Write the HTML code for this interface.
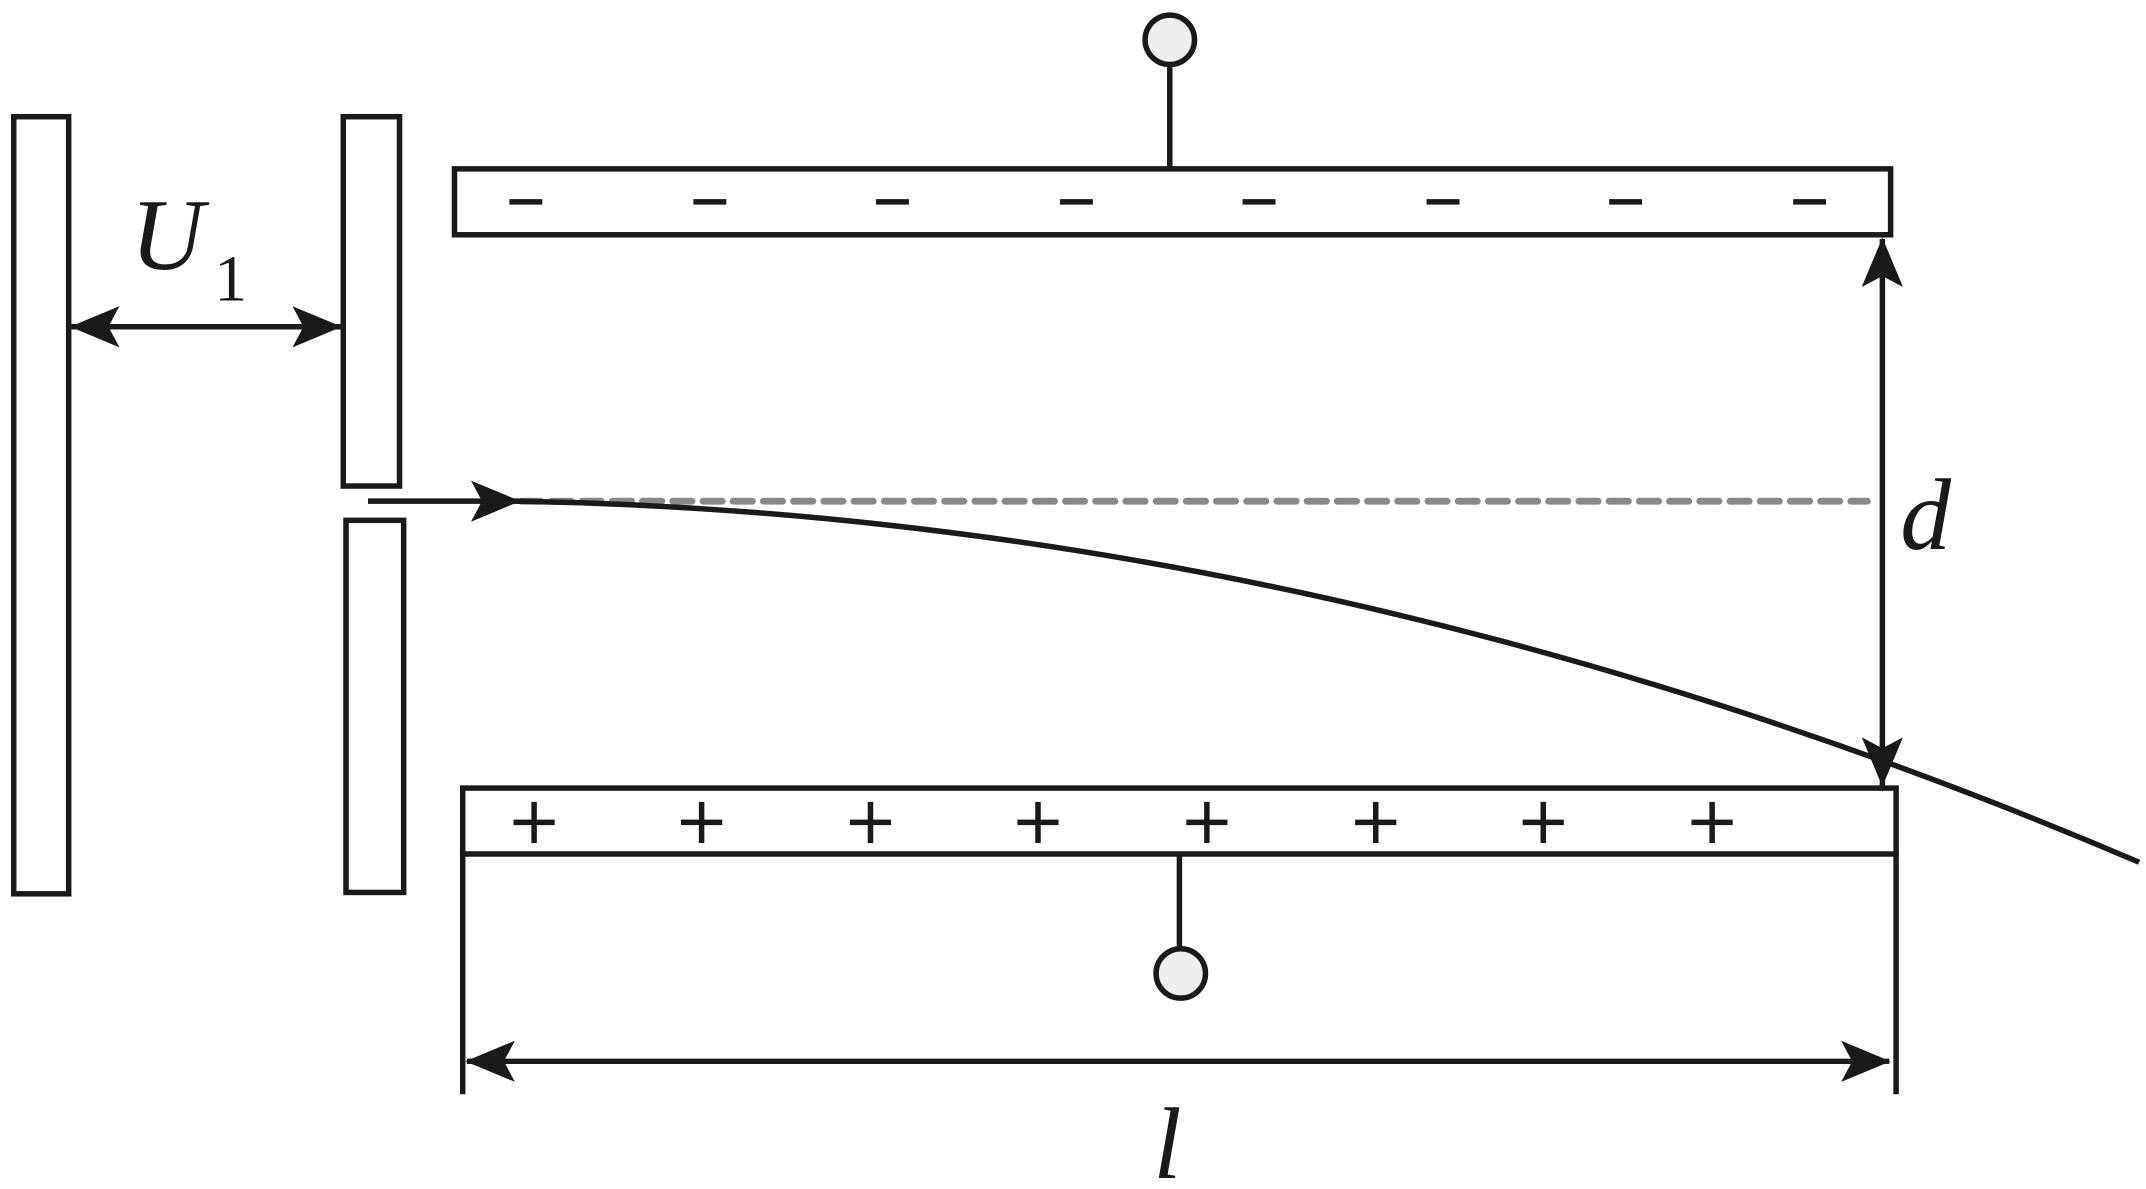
<!DOCTYPE html>
<html><head><meta charset="utf-8"><style>html,body{margin:0;padding:0;background:#fff;}svg{display:block}</style></head>
<body>
<svg width="2146" height="1189" viewBox="0 0 1563 866" xmlns="http://www.w3.org/2000/svg">
<defs>
<marker id="ah" viewBox="0 0 36 30" refX="35" refY="15" markerWidth="36" markerHeight="30" markerUnits="userSpaceOnUse" orient="auto-start-reverse">
<path d="M0,0 L36,15 L0,30 L8,15 Z" fill="#1a1a1a"/>
</marker>
</defs>
<g fill="none" stroke="#1a1a1a" stroke-width="4">
<rect x="10" y="85" width="40" height="566" fill="#fff"/>
<rect x="250" y="85" width="41" height="269" fill="#fff"/>
<rect x="252" y="379" width="42" height="271" fill="#fff"/>
<rect x="331" y="123" width="1046" height="48" fill="#fff"/>
<rect x="337" y="574" width="1044" height="48" fill="#fff"/>
<line x1="852" y1="123" x2="852" y2="47"/>
<circle cx="852" cy="29" r="18" fill="#eee"/>
<line x1="859" y1="622" x2="859" y2="691"/>
<circle cx="860" cy="709" r="18" fill="#eee"/>
<line x1="337" y1="622" x2="337" y2="797"/>
<line x1="1381" y1="622" x2="1381" y2="797"/>
<line x1="340" y1="773" x2="1376" y2="773" marker-start="url(#ah)" marker-end="url(#ah)"/>
<line x1="52" y1="238" x2="248" y2="238" marker-start="url(#ah)" marker-end="url(#ah)"/>
<line x1="1371" y1="174" x2="1371" y2="572" marker-start="url(#ah)" marker-end="url(#ah)"/>
<line x1="380" y1="365" x2="1360" y2="365" stroke="#888" stroke-width="5" stroke-dasharray="14 8" stroke-linecap="round"/>
<line x1="268" y1="365" x2="378" y2="365" marker-end="url(#ah)"/>
<path d="M375,365 Q966,375 1558,628"/>
</g>
<g stroke="#1a1a1a" stroke-width="4">
<line x1="371" y1="147" x2="395" y2="147"/><line x1="505" y1="147" x2="529" y2="147"/>
<line x1="638" y1="147" x2="662" y2="147"/><line x1="772" y1="147" x2="796" y2="147"/>
<line x1="905" y1="147" x2="929" y2="147"/><line x1="1039" y1="147" x2="1063" y2="147"/>
<line x1="1172" y1="147" x2="1196" y2="147"/><line x1="1306" y1="147" x2="1330" y2="147"/>
</g>
<g stroke="#1a1a1a" stroke-width="4">
<path d="M374,599h30M389,584v30"/><path d="M496,599h30M511,584v30"/>
<path d="M619,599h30M634,584v30"/><path d="M741,599h30M756,584v30"/>
<path d="M864,599h30M879,584v30"/><path d="M987,599h30M1002,584v30"/>
<path d="M1109,599h30M1124,584v30"/><path d="M1232,599h30M1247,584v30"/>
</g>
<g font-family="Liberation Serif, serif" font-style="italic" fill="#1a1a1a">
<text x="95" y="196" font-size="74">U</text>
<text x="156" y="219" font-size="48" font-style="normal">1</text>
<text x="1384" y="400" font-size="74">d</text>
<text x="840" y="858" font-size="74">l</text>
</g>
</svg>
</body></html>
